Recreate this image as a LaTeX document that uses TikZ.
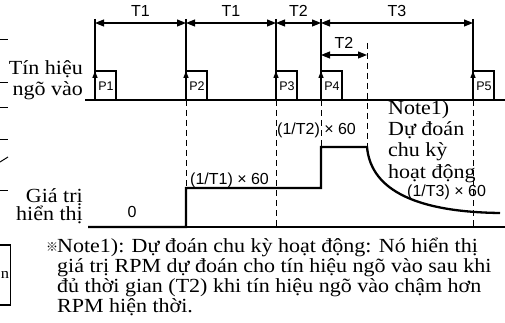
\documentclass[tikz,border=0pt]{standalone}
\usepackage{fontspec}
\setmainfont[FakeStretch=1.1]{Liberation Serif}
\newfontfamily\sansnum{Liberation Sans}
\newfontfamily\cjkmark{Noto Sans CJK JP}
\usetikzlibrary{arrows.meta}

\begin{document}
\begin{tikzpicture}[x=1pt,y=-1pt,
 pulse/.style={line width=1.8pt},
 edge/.style={line width=1.3pt,-{Triangle[length=7pt,width=5pt]}},
 dim/.style={line width=1.1pt,{Triangle[length=9pt,width=7pt]}-{Triangle[length=9pt,width=7pt]}},
 tick/.style={line width=1.1pt},
 guide/.style={line width=0.9pt,dash pattern=on 6pt off 4pt},
 axis/.style={line width=1.5pt},
 val/.style={line width=2.3pt},
 lab/.style={font=\fontsize{20}{21}\selectfont,inner sep=0pt,align=right},
 note/.style={font=\fontsize{20}{21}\selectfont,inner sep=0pt,align=left},
 tlab/.style={font=\sansnum\fontsize{16}{16}\selectfont,inner sep=0pt},
 plab/.style={font=\sansnum\fontsize{12.5}{12.5}\selectfont,inner sep=0pt}]
\useasboundingbox (0,0) rectangle (505,323);

% cut-off pieces at the left edge
\foreach \y in {40,83,108,140,190}
  \draw[line width=1pt] (0,\y) -- (8,\y);
\draw[line width=1pt] (0,162) -- (8,157);
\draw[line width=1.3pt] (-2,245) -- (10.5,245) -- (10.5,305) -- (-2,305);
\node[note,anchor=base west,font=\fontsize{15}{15}\selectfont] (cut) at (0.8,278) {n};

% input pulses
\foreach \n/\x in {1/95,2/186,3/276,4/321,5/473}{
  \coordinate (top\n) at (\x,19);
  \coordinate (dim\n) at (\x,23);
  \coordinate (rise\n) at (\x,71);
  \coordinate (low\n) at (\x,100);
  \draw[pulse] (low\n) |- (\x+21,71) -- (\x+21,100);
  \draw[edge] (low\n) -- (rise\n);
  \draw[tick] (top\n) -- (rise\n);
  \node[plab] (p\n) at (\x+11,86) {P\n};
}
\coordinate (inL) at (85,100);
\coordinate (inR) at (505,100);
\draw[axis] (inL) -- (inR);

% periods
\draw[dim] (dim1) -- node[tlab,above=6pt] (t1a) {T1} (dim2);
\draw[dim] (dim2) -- node[tlab,above=6pt] (t1b) {T1} (dim3);
\draw[dim] (dim3) -- node[tlab,above=6pt] (t2a) {T2} (dim4);
\draw[dim] (dim4) -- node[tlab,above=6pt] (t3) {T3} (dim5);
\coordinate (waitA) at (321,55);
\coordinate (waitB) at (367,55);
\draw[dim] (waitA) -- node[tlab,above=6pt] (t2b) {T2} (waitB);

% guides
\coordinate (g1) at (186,100);
\coordinate (g3) at (276,100);
\coordinate (g4) at (321,100);
\coordinate (g5) at (473,100);
\coordinate (gw) at (367,43);
\coordinate (step1) at (186,188);
\coordinate (step2) at (321,147);
\coordinate (drop) at (367,147);
\draw[guide] (g1) -- (step1);
\draw[guide] (g3) -- (276,227);
\draw[guide] (g4) -- (step2);
\draw[guide] (gw) -- (drop);
\draw[guide] (g5) -- (473,227);

% display value
\coordinate (outL) at (88,227);
\coordinate (outR) at (505,227);
\coordinate (tail) at (500,213);
\draw[axis] (outL) -- (outR);
\draw[val] (outL) -- (186,227) -- (step1) -- (321,188) -- (step2) -- (drop)
  .. controls (371,192) and (420,212) .. (tail);

% labels
\node[lab,anchor=base east] (inlab) at (83,96) {Tín hiệu\\ngõ vào};
\node[lab,anchor=base east,font=\fontsize{20}{18}\selectfont] (outlab) at (83,220) {Giá trị\\hiển thị};
\node[tlab,anchor=base] (zero) at (132,217) {0};
\node[tlab,anchor=base west] (v1) at (190,184) {(1/T1) × 60};
\node[tlab,anchor=base west] (v2) at (277,135) {(1/T2) × 60};
\node[tlab,anchor=base west] (v3) at (407,196) {(1/T3) × 60};
\node[note,anchor=base west] (pred) at (388,178) {Note1)\\Dự đoán\\chu kỳ\\hoạt động};

% footnote
\node[font=\cjkmark\fontsize{12}{12}\selectfont,inner sep=0pt] (mark) at (52,247) {※};
\node[note,anchor=base west,font=\fontsize{20}{20}\selectfont] (foot) at (57,312)
  {Note1): Dự đoán chu kỳ hoạt động: Nó hiển thị\\giá trị RPM dự đoán cho tín hiệu ngõ vào sau khi\\đủ thời gian (T2) khi tín hiệu ngõ vào chậm hơn\\RPM hiện thời.};
\end{tikzpicture}
\end{document}
